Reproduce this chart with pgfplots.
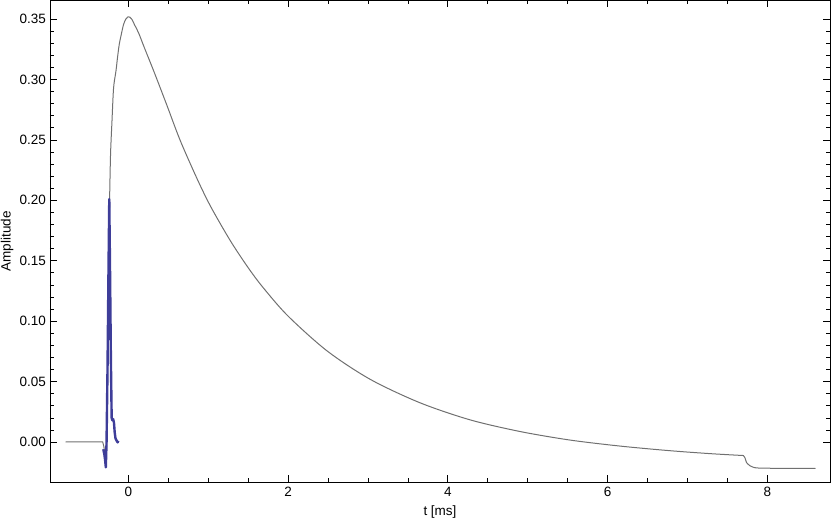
\documentclass[border=0pt]{standalone}
\usepackage{pgfplots}
\pgfplotsset{compat=1.18}
\usepackage{fontspec}
\setmainfont{Liberation Sans}
\definecolor{mmablue}{RGB}{62,61,153}
\definecolor{mmagray}{RGB}{112,112,112}
\begin{document}
\begin{tikzpicture}
\begin{axis}[
  name=ax,
  scale only axis,
  width=780pt, height=481.5pt,
  xmin=-0.98, xmax=8.785,
  ymin=-0.0331, ymax=0.3653,
  axis line style={line width=0.8pt, black},
  tick align=inside,
  major tick length=7pt,
  minor tick length=4pt,
  tick style={line width=0.6pt, black},
  xtick={0,2,4,6,8},
  minor x tick num=3,
  ytick={0,0.05,0.10,0.15,0.20,0.25,0.30,0.35},
  minor y tick num=4,
  xtick pos=both, ytick pos=both,
  xticklabel pos=bottom, yticklabel pos=left,
  /pgf/number format/assume math mode=true,
  tick label style={font=\fontsize{13.5}{16}\selectfont, inner sep=0pt},
  yticklabel style={/pgf/number format/.cd, fixed, fixed zerofill, precision=2, /tikz/.cd, anchor=east, xshift=-4pt},
  xticklabel style={anchor=center, yshift=-9.5pt},
  xlabel={t [ms]},
  ylabel={Amplitude},
  label style={font=\fontsize{13.5}{16}\selectfont, inner sep=0pt},
  xlabel style={at={(axis description cs:0.5,-0.0623)}, anchor=center},
  ylabel style={at={(axis description cs:-0.0551,0.5)}, anchor=center},
  clip=true,
]
\addplot[mmagray, line width=1pt, line cap=round] coordinates {
(-0.78,0.0) (-0.32,0.0) (-0.305,-0.004) (-0.29,-0.012) (-0.278,-0.021)
(-0.265,0.02) (-0.255,0.08) (-0.245,0.14) (-0.234,0.200)
};
\addplot[mmagray, line width=1pt, smooth, tension=0.5, line cap=round] coordinates {
(-0.234,0.200) (-0.222,0.238)
(-0.204,0.2655) (-0.184,0.293) (-0.154,0.307) (-0.135,0.318) (-0.113,0.329)
(-0.085,0.338) (-0.059,0.3455) (-0.03,0.350) (-0.004,0.3518) (0.02,0.3515)
(0.046,0.3496) (0.08,0.345) (0.129,0.3385) (0.2,0.3265) (0.33,0.305)
(0.484,0.2785) (0.65,0.2495) (0.86,0.218) (1.03,0.195) (1.277,0.1666)
(1.5,0.1443) (1.69,0.1276) (2.0,0.1042) (2.49,0.0753) (3.03,0.0518)
(3.65,0.0325) (4.28,0.0183) (4.91,0.0086) (5.53,0.0016) (6.16,-0.0034)
(6.78,-0.0072) (7.3,-0.0097) (7.70,-0.0112)
};
\addplot[mmagray, line width=1pt, smooth, tension=0.4, line cap=round] coordinates {
(7.70,-0.0112) (7.72,-0.013) (7.74,-0.017)
(7.78,-0.0195) (7.83,-0.021) (7.9,-0.0216) (8.2,-0.0218) (8.6,-0.0218)
};
\addplot[mmablue, line width=2.4pt, line join=round] coordinates {
(-0.313,-0.006) (-0.300,-0.010) (-0.290,-0.015) (-0.281,-0.021)
(-0.272,0.00) (-0.260,0.06) (-0.248,0.14) (-0.238,0.201)
(-0.228,0.14) (-0.218,0.07) (-0.208,0.020) (-0.200,0.018)
(-0.190,0.019) (-0.179,0.016) (-0.170,0.008) (-0.160,0.003)
(-0.145,0.001) (-0.133,-0.0003) (-0.125,0.001)
};
\end{axis}
\pgfresetboundingbox
\path[use as bounding box] ([shift={(-50pt,-39pt)}]ax.south west) rectangle ([shift={(2pt,0.5pt)}]ax.north east);
\end{tikzpicture}
\end{document}
